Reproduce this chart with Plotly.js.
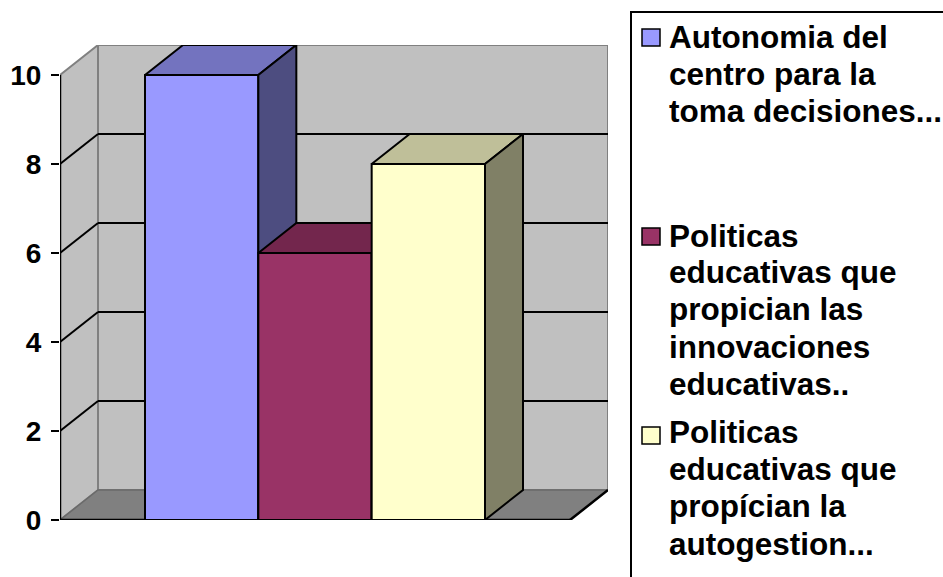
<!DOCTYPE html>
<html>
<head>
<meta charset="utf-8">
<script src="https://cdn.plot.ly/plotly-3.0.1.min.js"></script>
<style>html,body{margin:0;padding:0;background:#fff;}#chart{width:943px;height:577px;}</style>
</head>
<body>
<div id="chart"></div>
<script>
// ---- data ----
const categories = [
  'Autonomia del centro para la toma decisiones...',
  'Politicas educativas que propician las innovaciones educativas..',
  'Politicas educativas que propícian la autogestion...'
];
const values = [10, 6, 8];
const yTickVals = [0, 2, 4, 6, 8, 10];
const yTickText = ['0', '2', '4', '6', '8', '10'];
const legendLines = [
  ['Autonomia del', 'centro para la', 'toma decisiones...'],
  ['Politicas', 'educativas que', 'propician las', 'innovaciones', 'educativas..'],
  ['Politicas', 'educativas que', 'propícian la', 'autogestion...']
];
const frontColors = ['#9999ff', '#993366', '#ffffcc'];
const topColors   = ['#7373bf', '#73264d', '#bfbf99'];
const sideColors  = ['#4d4d80', '#4d1a33', '#808066'];

// ---- geometry (3D look) ----
const W = 943, H = 577;
const L = 60, R = 608, T = 45, B = 520;
const DX = 0.3353;           // depth in x units
const YMAX = 10;             // axis max
const DY = 30 / 44.5;        // depth in value units
const XFRONT = 4.5;          // floor front width in bar widths
const XMAX = XFRONT + DX;
const GAP = 0.75;

function pxX(p){ return (p - L) / (R - L); }
function pxY(p){ return (B - p) / (B - T); }

const traces = [];
const line = {color:'#000', width:2};
values.forEach((v, i) => {
  const x0 = GAP + i, x1 = GAP + i + 1;
  // front
  traces.push({type:'scatter', mode:'lines', fill:'toself', fillcolor:frontColors[i],
    x:[x0, x1, x1, x0, x0], y:[0, 0, v, v, 0], line:line, hoverinfo:'skip', showlegend:false, name:categories[i]});
  // top
  traces.push({type:'scatter', mode:'lines', fill:'toself', fillcolor:topColors[i],
    x:[x0, x1, x1 + DX, x0 + DX, x0], y:[v, v, v + DY, v + DY, v], line:line, hoverinfo:'skip', showlegend:false});
  // side
  traces.push({type:'scatter', mode:'lines', fill:'toself', fillcolor:sideColors[i],
    x:[x1, x1 + DX, x1 + DX, x1, x1], y:[0, DY, v + DY, v, 0], line:line, hoverinfo:'skip', showlegend:false});
});

const shapes = [];
// back wall
shapes.push({type:'rect', layer:'below', xref:'x', yref:'y', x0:DX, x1:XMAX, y0:DY, y1:YMAX + DY,
  fillcolor:'#c0c0c0', line:{color:'#808080', width:2}});
// left wall
shapes.push({type:'path', layer:'below', xref:'x', yref:'y',
  path:`M 0 0 L ${DX} ${DY} L ${DX} ${YMAX + DY} L 0 ${YMAX} Z`, fillcolor:'#c0c0c0', line:{color:'#808080', width:2}});
// floor
shapes.push({type:'path', layer:'below', xref:'x', yref:'y',
  path:`M 0 0 L ${XFRONT} 0 L ${XMAX} ${DY} L ${DX} ${DY} Z`, fillcolor:'#808080', line:{color:'#6a6a6a', width:1.5}});
// gridlines
yTickVals.forEach(t => {
  if (t === 0 || t === YMAX) return;
  shapes.push({type:'line', layer:'below', xref:'x', yref:'y', x0:DX, x1:XMAX, y0:t + DY, y1:t + DY, line:{color:'#000', width:2}});
  shapes.push({type:'line', layer:'below', xref:'x', yref:'y', x0:0, x1:DX, y0:t, y1:t + DY, line:{color:'#000', width:2}});
});
// floor front edge and right edge
shapes.push({type:'line', layer:'below', xref:'x', yref:'y', x0:0, x1:XFRONT, y0:0, y1:0, line:{color:'#000', width:2.5}});
shapes.push({type:'line', layer:'below', xref:'x', yref:'y', x0:XFRONT, x1:XMAX, y0:0, y1:DY, line:{color:'#000', width:2.5}});
// y axis line
shapes.push({type:'line', layer:'above', xref:'x', yref:'y', x0:0, x1:0, y0:0, y1:YMAX, line:{color:'#000', width:2.5}});
// category axis edge ticks
[0, XFRONT].forEach(xx => {
  shapes.push({type:'line', xref:'x', yref:'y', ysizemode:'pixel', yanchor:0, x0:xx, x1:xx, y0:0, y1:-8, line:{color:'#000', width:2}});
});
// legend box
shapes.push({type:'rect', xref:'paper', yref:'paper', x0:pxX(631), x1:pxX(990), y0:pxY(12), y1:pxY(620),
  fillcolor:'rgba(0,0,0,0)', line:{color:'#000', width:2}});

// legend entries
const annotations = [];
const swatchTop = [29, 228, 427];
const lineBase = [[48, 85, 122], [247, 283, 320, 358, 395], [443, 480, 517, 555]];
legendLines.forEach((lines, i) => {
  shapes.push({type:'rect', xref:'paper', yref:'paper', x0:pxX(642), x1:pxX(660), y0:pxY(swatchTop[i]), y1:pxY(swatchTop[i] + 17),
    fillcolor:frontColors[i], line:{color:'#000', width:1.5}});
  lines.forEach((txt, j) => {
    annotations.push({xref:'paper', yref:'paper', x:pxX(667), y:pxY(lineBase[i][j] - 11), xanchor:'left', yanchor:'middle',
      text:txt, showarrow:false, font:{family:'Arial, "Liberation Sans", sans-serif', size:31.5, color:'#000', weight:'bold'}});
  });
});

const layout = {
  width:W, height:H,
  margin:{l:L, r:W - R, t:T, b:H - B, pad:0},
  paper_bgcolor:'#fff', plot_bgcolor:'rgba(0,0,0,0)',
  showlegend:false,
  xaxis:{range:[0, XMAX], visible:false, fixedrange:true},
  yaxis:{range:[0, YMAX + DY], tickmode:'array', tickvals:yTickVals, ticktext:yTickText,
    ticks:'outside', ticklen:8, tickwidth:2, tickcolor:'#000', showgrid:false, zeroline:false, showline:false,
    ticklabelstandoff:4,
    tickfont:{family:'Arial, "Liberation Sans", sans-serif', size:28, color:'#000', weight:'bold'}, fixedrange:true},
  shapes:shapes,
  annotations:annotations
};

Plotly.newPlot('chart', traces, layout, {staticPlot:true, displayModeBar:false});
</script>
</body>
</html>
